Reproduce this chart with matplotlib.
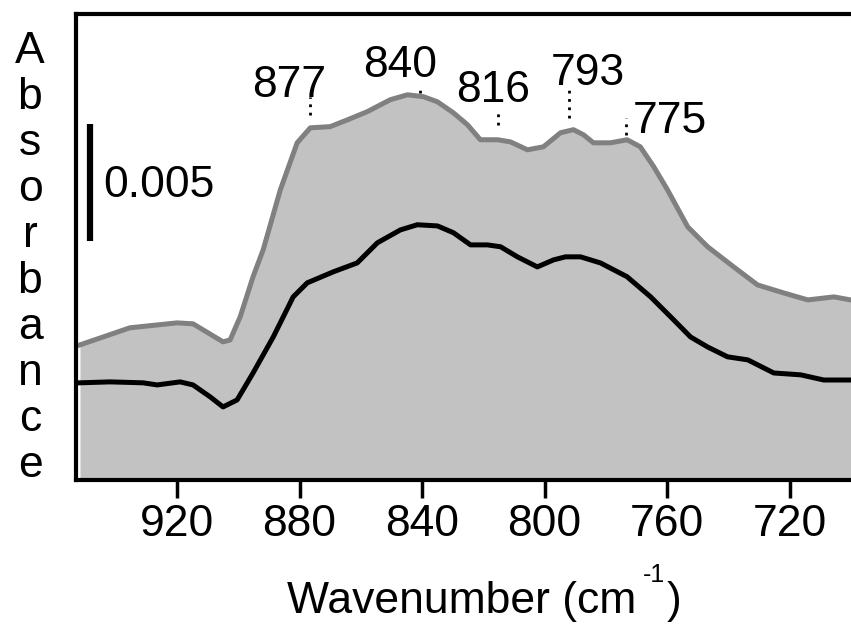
import numpy as np
import matplotlib
matplotlib.use('Agg')
import matplotlib.pyplot as plt

plt.rcParams['font.family'] = ['Liberation Sans', 'DejaVu Sans']

# upper (grey) spectrum: wavenumber (cm-1) and absorbance
upper_wn = [951.7, 935.4, 920.0, 914.8, 905.0, 902.7, 899.4, 895.2, 891.9, 886.3,
            880.8, 876.5, 870.0, 864.4, 857.9, 850.4, 844.8, 839.6, 835.0, 829.8,
            825.2, 821.0, 815.4, 811.2, 805.6, 800.4, 794.8, 790.6, 787.3, 784.1,
            778.5, 773.1, 768.8, 764.4, 759.9, 753.3, 746.8, 738.3, 730.5, 722.0,
            714.1, 705.6, 700.1]
upper_abs = [0.00577, 0.00650, 0.00671, 0.00667, 0.00590, 0.00598, 0.00697, 0.00868,
             0.00983, 0.01239, 0.01440, 0.01504, 0.01509, 0.01538, 0.01573, 0.01624,
             0.01645, 0.01637, 0.01615, 0.01568, 0.01517, 0.01453, 0.01453, 0.01444,
             0.01410, 0.01423, 0.01483, 0.01496, 0.01474, 0.01440, 0.01440, 0.01453,
             0.01423, 0.01338, 0.01239, 0.01081, 0.00996, 0.00910, 0.00833, 0.00799,
             0.00769, 0.00782, 0.00769]

# lower (black) spectrum
lower_wn = [951.7, 941.9, 931.1, 926.5, 919.0, 914.8, 909.2, 905.0, 900.4, 895.2,
            888.6, 882.1, 877.5, 869.0, 861.2, 854.6, 847.1, 841.6, 835.0, 829.8,
            824.2, 818.7, 814.4, 808.9, 802.4, 797.1, 793.2, 788.3, 781.8, 773.1,
            765.4, 757.9, 752.4, 746.8, 740.3, 733.7, 725.2, 716.4, 708.9, 700.1]
lower_abs = [0.00415, 0.00419, 0.00415, 0.00406, 0.00419, 0.00406, 0.00355, 0.00312,
             0.00342, 0.00457, 0.00611, 0.00782, 0.00842, 0.00889, 0.00927, 0.01013,
             0.01068, 0.01090, 0.01085, 0.01056, 0.01004, 0.01004, 0.00996, 0.00953,
             0.00910, 0.00940, 0.00953, 0.00953, 0.00927, 0.00868, 0.00782, 0.00684,
             0.00611, 0.00568, 0.00526, 0.00513, 0.00457, 0.00449, 0.00427, 0.00427]

# peak labels
peak_wn = [876.5, 840.6, 815.4, 792.0, 773.5]
peak_text = ['877', '840', '816', '793', '775']

# layout of the peak annotations (absorbance / wavenumber units)
label_x = [883.4, 847.1, 816.7, 786.0, 771.3]
label_y = [0.01637, 0.01722, 0.01615, 0.01688, 0.01483]
label_ha = ['center', 'center', 'center', 'center', 'left']
dot_top = [0.01637, 0.01675, 0.01581, 0.01675, 0.01547]
dot_bot = [0.01560, 0.01654, 0.01517, 0.01547, 0.01474]

fig = plt.figure(figsize=(8.51, 6.24), dpi=100)
ax = fig.add_axes([76 / 851, 1 - 480 / 624, 1 - 76 / 851, (480 - 14) / 624])

ax.fill_between(upper_wn, upper_abs, 0, color='#c2c2c2', lw=0)
ax.plot(upper_wn, upper_abs, color='#808080', lw=3.6, solid_joinstyle='round')
ax.plot(lower_wn, lower_abs, color='black', lw=3.6, solid_joinstyle='round')

for x, t, lx, ly, ha, y1, y2 in zip(peak_wn, peak_text, label_x, label_y,
                                      label_ha, dot_top, dot_bot):
    ax.plot([x, x], [y2, y1], color='black', ls=(0, (1, 2)), lw=2)
    ax.text(lx, ly, t, ha=ha, va='baseline', fontsize=32)

# scale bar
ax.plot([948.4, 948.4], [0.0102, 0.0152], color='black', lw=4.5,
        solid_capstyle='butt')
ax.text(944.2, 0.01209, '0.005', ha='left', va='baseline', fontsize=32)

ax.set_xlim(953, 700)
ax.set_ylim(0, 0.0199)
ax.set_xticks([920, 880, 840, 800, 760, 720])
ax.set_yticks([])
ax.tick_params(axis='x', direction='out', length=13, width=2.5, pad=4,
               labelsize=32)
for side in ['left', 'top', 'bottom']:
    ax.spines[side].set_linewidth(3)
ax.spines['right'].set_visible(False)

# x label, split so the small raised "-1" sits between "cm" and ")"
fig.text(636 / 851, 1 - 613 / 624, 'Wavenumber (cm',
         ha='right', va='baseline', fontsize=32)
fig.text(643 / 851, 1 - 582 / 624, '-1', ha='left', va='baseline', fontsize=18)
fig.text(667 / 851, 1 - 613 / 624, ')', ha='left', va='baseline', fontsize=32)

for i, ch in enumerate('Absorbance'):
    fig.text(30 / 851, 1 - (63 + 46 * i) / 624, ch, ha='center',
             va='baseline', fontsize=32)

fig.savefig('out.png', dpi=100)
